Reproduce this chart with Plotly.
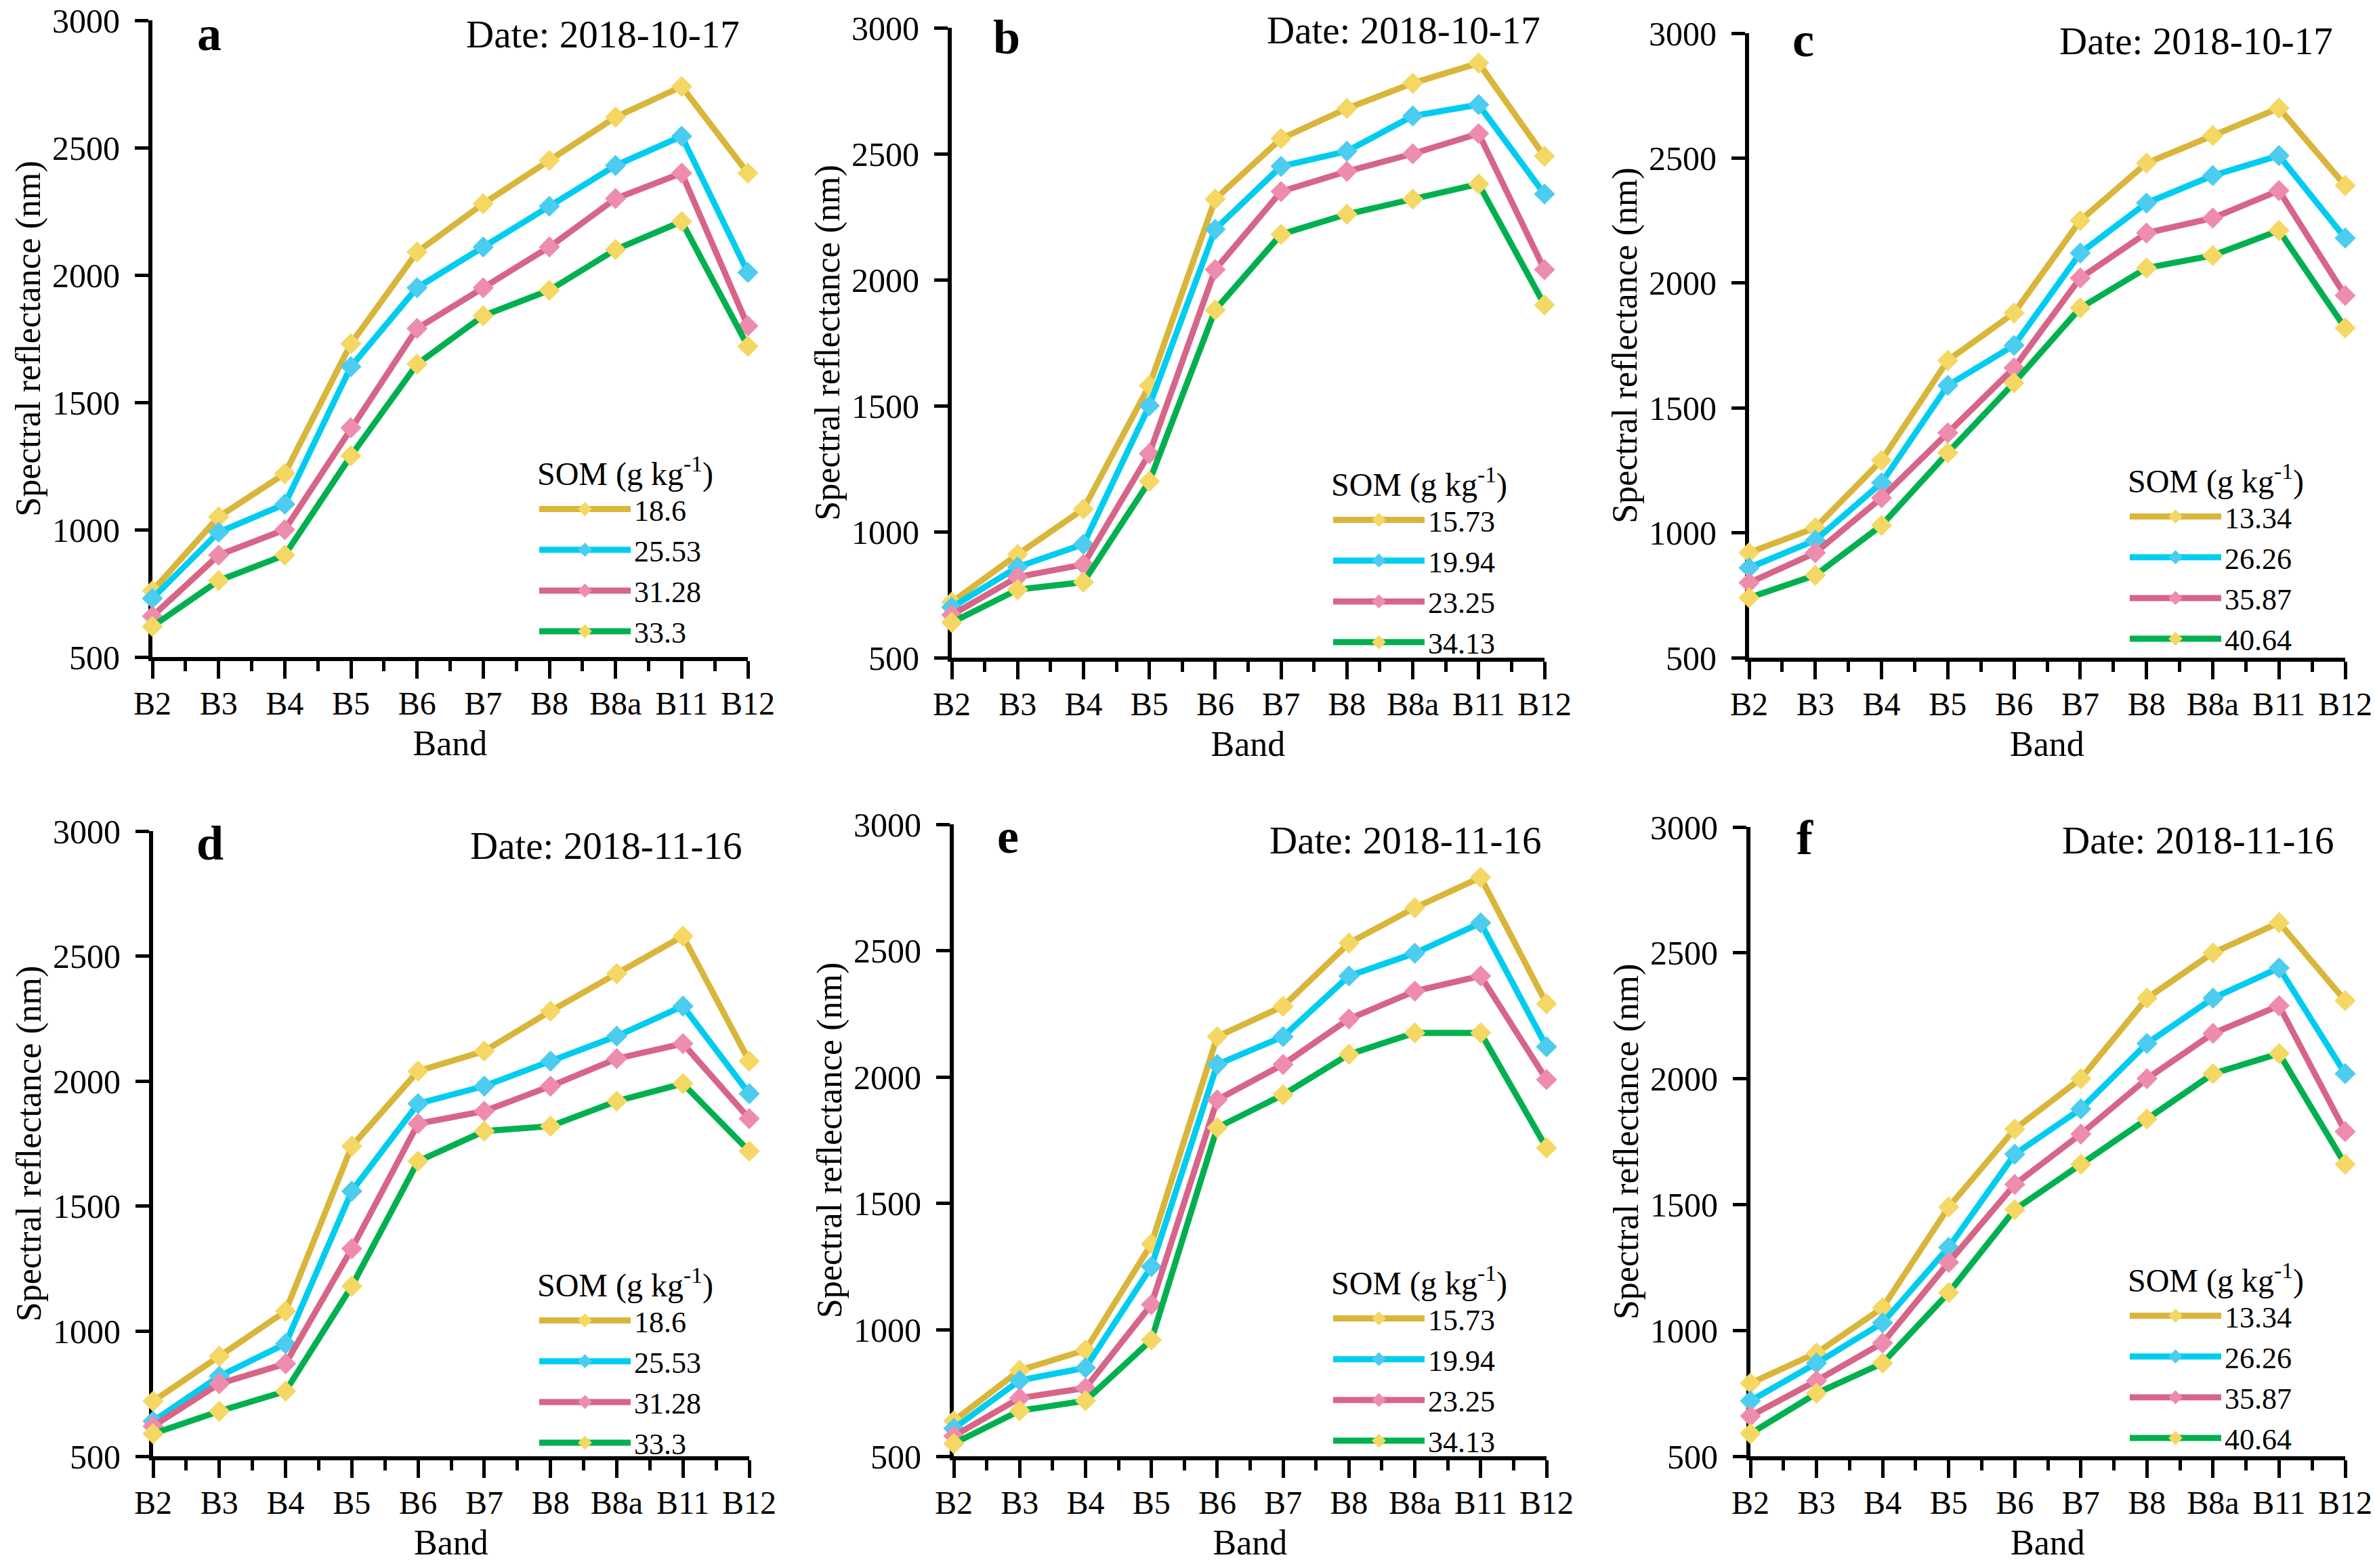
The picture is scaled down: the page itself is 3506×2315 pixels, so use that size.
import plotly.graph_objects as go

# ---------------- data ----------------
BANDS = ["B2", "B3", "B4", "B5", "B6", "B7", "B8", "B8a", "B11", "B12"]
PANEL_LETTERS = ["a", "b", "c", "d", "e", "f"]
PANEL_DATES = ["Date: 2018-10-17", "Date: 2018-10-17", "Date: 2018-10-17",
               "Date: 2018-11-16", "Date: 2018-11-16", "Date: 2018-11-16"]
SOM_LABELS_AD = ["18.6", "25.53", "31.28", "33.3"]
SOM_LABELS_BE = ["15.73", "19.94", "23.25", "34.13"]
SOM_LABELS_CF = ["13.34", "26.26", "35.87", "40.64"]
LEGEND_TITLE = "SOM (g kg<sup>-1</sup>)"
Y_TITLE = "Spectral reflectance (nm)"
X_TITLE = "Band"
Y_TICKS = [500, 1000, 1500, 2000, 2500, 3000]

# panel a (2018-10-17)
A_1 = [760, 1050, 1220, 1730, 2090, 2280, 2450, 2620, 2740, 2400]
A_2 = [730, 990, 1100, 1640, 1950, 2110, 2270, 2430, 2545, 2010]
A_3 = [660, 900, 1000, 1400, 1790, 1950, 2110, 2300, 2400, 1800]
A_4 = [620, 800, 900, 1290, 1650, 1840, 1940, 2100, 2210, 1720]
# panel b (2018-10-17)
B_1 = [720, 910, 1090, 1580, 2320, 2560, 2680, 2780, 2860, 2490]
B_2 = [700, 860, 950, 1500, 2200, 2450, 2510, 2650, 2695, 2340]
B_3 = [670, 820, 870, 1310, 2040, 2350, 2430, 2500, 2580, 2040]
B_4 = [640, 770, 800, 1200, 1880, 2180, 2260, 2320, 2380, 1900]
# panel c (2018-10-17)
C_1 = [920, 1020, 1290, 1690, 1880, 2250, 2480, 2590, 2700, 2390]
C_2 = [860, 970, 1200, 1590, 1750, 2120, 2320, 2430, 2510, 2180]
C_3 = [800, 920, 1140, 1400, 1660, 2020, 2200, 2260, 2370, 1950]
C_4 = [740, 830, 1030, 1320, 1600, 1900, 2060, 2110, 2210, 1820]
# panel d (2018-11-16)
D_1 = [720, 900, 1080, 1740, 2040, 2120, 2280, 2430, 2580, 2080]
D_2 = [640, 820, 950, 1560, 1910, 1980, 2080, 2180, 2300, 1950]
D_3 = [620, 790, 870, 1330, 1830, 1880, 1980, 2090, 2150, 1850]
D_4 = [590, 680, 760, 1180, 1680, 1800, 1820, 1920, 1990, 1720]
# panel e (2018-11-16)
E_1 = [640, 840, 920, 1340, 2160, 2280, 2530, 2670, 2790, 2290]
E_2 = [610, 800, 850, 1250, 2050, 2160, 2400, 2490, 2610, 2120]
E_3 = [580, 730, 770, 1100, 1910, 2050, 2230, 2340, 2400, 1990]
E_4 = [550, 680, 720, 960, 1800, 1930, 2090, 2175, 2175, 1720]
# panel f (2018-11-16)
F_1 = [790, 910, 1090, 1490, 1800, 2000, 2320, 2500, 2620, 2310]
F_2 = [720, 870, 1030, 1330, 1700, 1880, 2140, 2320, 2440, 2020]
F_3 = [660, 800, 950, 1270, 1580, 1780, 2000, 2180, 2290, 1790]
F_4 = [590, 750, 870, 1150, 1480, 1660, 1840, 2020, 2100, 1660]

PANELS = [
    (SOM_LABELS_AD, [A_1, A_2, A_3, A_4]),
    (SOM_LABELS_BE, [B_1, B_2, B_3, B_4]),
    (SOM_LABELS_CF, [C_1, C_2, C_3, C_4]),
    (SOM_LABELS_AD, [D_1, D_2, D_3, D_4]),
    (SOM_LABELS_BE, [E_1, E_2, E_3, E_4]),
    (SOM_LABELS_CF, [F_1, F_2, F_3, F_4]),
]

# ---------------- styles / layout ----------------
W, H = 3506, 2315
FONT = "Liberation Serif"
LINE_COLORS = ["#D9B53A", "#00CCF0", "#D66588", "#00B04F"]
MARKER_COLORS = ["#F5D763", "#4CCCEE", "#EE8CAE", "#F5D763"]

# plot box in pixels: left (B2), right (B12), top (3000), bottom (500)
PANEL_BOX = [
    (225, 1104, 30, 970),
    (1405, 2280, 41, 971),
    (2582, 3462, 49, 971),
    (226, 1106, 1227, 2150),
    (1408, 2283, 1217, 2150),
    (2584, 3462, 1221, 2150),
]
X_TITLE_STANDOFF = [17, 17, 17, 17, 17, 17]
LETTER_POS = [(309, 50), (1486, 55), (2662, 59), (310, 1245), (1488, 1235), (2664, 1237)]
DATE_POS = [(1094, 50), (2276, 44), (3446, 60), (1098, 1248), (2278, 1240), (3448, 1240)]
LEGEND_POS = [(791, 654), (1963, 670), (3139, 665), (791, 1852), (1963, 1849), (3139, 1845)]


def fx(p):
    return p / W


def fy(p):
    return 1 - p / H


fig = go.Figure()
layout = dict(
    width=W, height=H,
    margin=dict(l=0, r=0, t=0, b=0, autoexpand=False),
    paper_bgcolor="white", plot_bgcolor="white",
    font=dict(family=FONT, color="black", size=50),
    showlegend=True,
    annotations=[],
)

xpos = list(range(len(BANDS)))

for i, ((labels, series), box) in enumerate(zip(PANELS, PANEL_BOX), start=1):
    sfx = "" if i == 1 else str(i)
    legend_name = "legend" if i == 1 else f"legend{i}"
    for k, (lab, vals) in enumerate(zip(labels, series)):
        fig.add_trace(go.Scatter(
            x=xpos, y=vals, name=lab,
            xaxis=f"x{sfx}", yaxis=f"y{sfx}",
            legend=legend_name,
            mode="lines+markers",
            line=dict(color=LINE_COLORS[k], width=9),
            marker=dict(symbol="diamond", size=24, color=MARKER_COLORS[k],
                        line=dict(width=0)),
            cliponaxis=False,
        ))
    left, right, top, bottom = box
    layout[f"xaxis{sfx}"] = dict(
        domain=[fx(left), fx(right)], anchor=f"y{sfx}",
        range=[0, len(BANDS) - 1], automargin=False,
        tickmode="array", tickvals=xpos, ticktext=BANDS,
        showline=True, linecolor="black", linewidth=6,
        ticks="outside", ticklen=26, tickwidth=5, tickcolor="black",
        minor=dict(dtick=0.5, tick0=0, ticks="outside", ticklen=15,
                   tickwidth=5, tickcolor="black", showgrid=False),
        showgrid=False, zeroline=False,
        tickfont=dict(family=FONT, size=48, color="black"),
        ticklabelstandoff=-5,
        title=dict(text=X_TITLE, font=dict(family=FONT, size=52, color="black"),
                   standoff=X_TITLE_STANDOFF[i - 1]),
        layer="below traces", fixedrange=True,
    )
    layout[f"yaxis{sfx}"] = dict(
        domain=[fy(bottom), fy(top)], anchor=f"x{sfx}",
        range=[500, 3000], automargin=False,
        tickmode="array", tickvals=Y_TICKS,
        showline=True, linecolor="black", linewidth=6,
        ticks="outside", ticklen=20, tickwidth=5, tickcolor="black",
        showgrid=False, zeroline=False,
        tickfont=dict(family=FONT, size=50, color="black"),
        ticklabelstandoff=12,
        title=dict(text=Y_TITLE, font=dict(family=FONT, size=52, color="black"),
                   standoff=3),
        layer="below traces", fixedrange=True,
    )
    lx, ly = LEGEND_POS[i - 1]
    layout[legend_name] = dict(
        x=fx(lx), y=fy(ly), xanchor="left", yanchor="top",
        bgcolor="rgba(0,0,0,0)", borderwidth=0,
        itemwidth=135, tracegroupgap=0,
        font=dict(family=FONT, size=44, color="black"),
        title=dict(text=LEGEND_TITLE, side="top",
                   font=dict(family=FONT, size=48, color="black")),
    )
    tx, ty = LETTER_POS[i - 1]
    layout["annotations"].append(dict(
        x=fx(tx), y=fy(ty), xref="paper", yref="paper",
        text=f"<b>{PANEL_LETTERS[i - 1]}</b>", showarrow=False,
        xanchor="center", yanchor="middle",
        font=dict(family=FONT, size=72, color="black"),
    ))
    dx, dy = DATE_POS[i - 1]
    layout["annotations"].append(dict(
        x=fx(dx), y=fy(dy), xref="paper", yref="paper",
        text=PANEL_DATES[i - 1], showarrow=False,
        xanchor="right", yanchor="middle",
        font=dict(family=FONT, size=57, color="black"),
    ))

fig.update_layout(**layout)
fig.write_html(
    "out.html",
    config={"displayModeBar": False},
    post_script="document.body.style.margin='0px';document.body.style.padding='0px';",
)
